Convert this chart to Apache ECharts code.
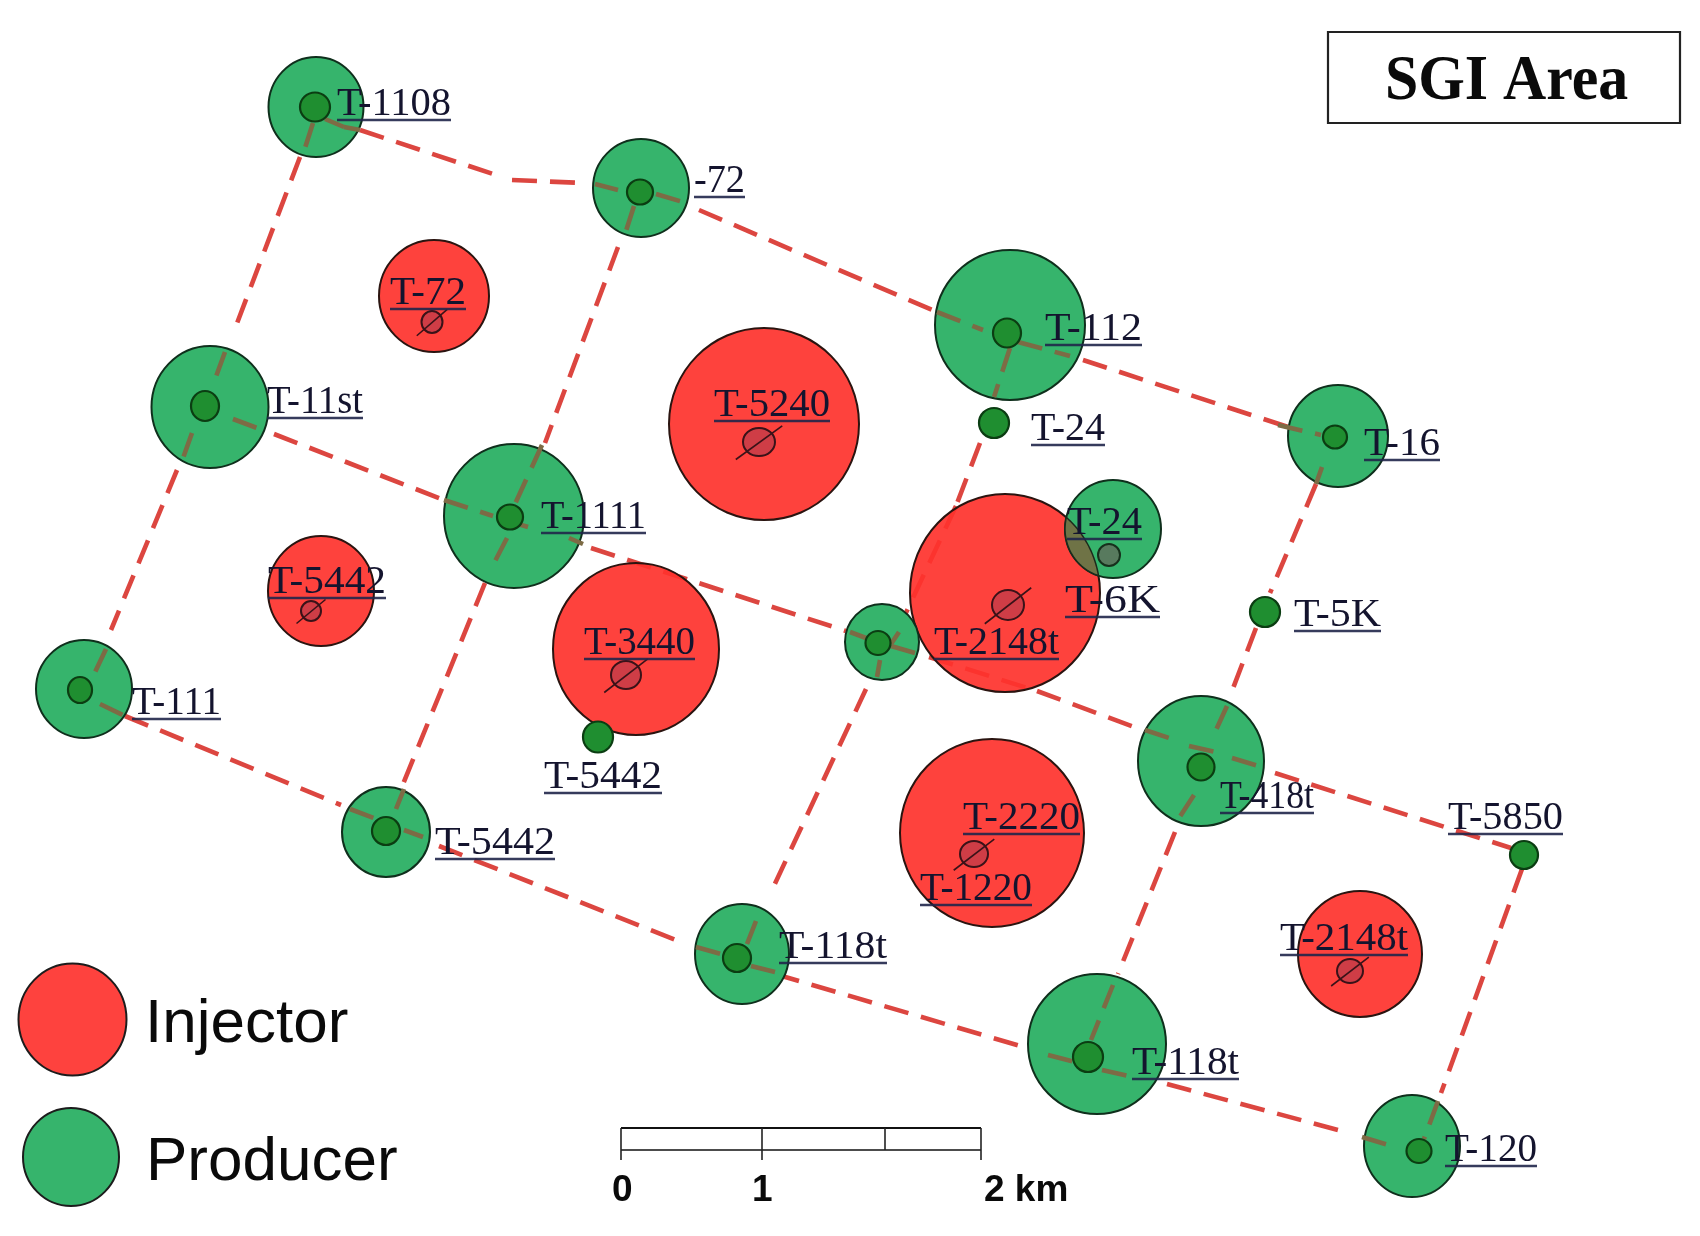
<!DOCTYPE html>
<html>
<head>
<meta charset="utf-8">
<title>SGI Area</title>
<script src="https://cdn.jsdelivr.net/npm/echarts@6/dist/echarts.min.js"></script>
<style>
  html, body { margin: 0; padding: 0; background: #fff; }
  #main { width: 1700px; height: 1236px; }
</style>
</head>
<body>
<div id="main"></div>
<script>
// map units below are the picture's own x / y (y runs downward)
// [x, y, rx, ry]
const injectors = [
    [434, 296, 55, 56],
    [764, 424, 95, 96],
    [321, 591, 53, 55],
    [636, 649, 83, 86],
    [1005, 593, 95, 99],
    [992, 833, 92, 94],
    [1360, 954, 62, 63]
];
const producers = [
    [316, 107, 47.5, 50],
    [641, 188, 48, 49],
    [1010, 325, 75, 75],
    [210, 407, 58.5, 61],
    [1338, 436, 50, 51],
    [514, 516, 70, 72],
    [1113, 529, 48, 49],
    [882, 642, 37, 38],
    [84, 689, 48, 49],
    [1201, 761, 63, 65],
    [386, 832, 44, 45],
    [742, 954, 47, 50],
    [1097, 1044, 69, 70],
    [1412, 1146, 48, 51]
];
// inner well marks
const producerWells = [
    [315, 107, 15, 14.5], [640, 192, 13, 12.5], [1007, 333, 14, 14.5], [205, 406, 14, 15],
    [1335, 437, 12, 11.5], [510, 517, 13, 12.5], [878, 643, 12.5, 12], [80, 690, 12, 13],
    [1201, 767, 13.5, 13.5], [386, 831, 14, 14], [737, 958, 14, 14], [1088, 1057, 15, 15],
    [1419, 1151, 12.5, 12], [994, 423, 15, 15], [1265, 612, 15, 15], [598, 737, 15, 15.5],
    [1524, 855, 14, 14]
];
const injectorWells = [
    [432, 322, 10.5, 11], [759, 442, 16, 14], [311, 611, 10, 10], [626, 675, 15, 14],
    [1008, 605, 16, 15], [974, 854, 14, 13], [1350, 971, 13, 12]
];
const overlapWell = [[1109, 555, 11, 11]];

// dashes outside the producers: [x1, y1, x2, y2]
const linksOutside = [
    [360, 130, 493, 174], [512, 180, 583, 183], [699, 210, 937, 312], [1083, 360, 1288, 427],
    [300, 157, 236, 326], [177, 470, 111, 630], [274, 434, 444, 500], [591, 548, 846, 631],
    [929, 657, 1037, 691], [1037, 691, 1137, 728], [1275, 773, 1511, 848],
    [125, 716, 341, 805], [439, 846, 686, 944], [775, 974, 1034, 1050], [1167, 1084, 1349, 1133],
    [618, 247, 545, 443], [485, 583, 401, 789], [980, 443, 956, 506], [956, 506, 904, 617],
    [866, 689, 772, 890], [1316, 484, 1270, 593], [1256, 628, 1232, 691],
    [1175, 832, 1118, 974], [1522, 869, 1441, 1093]
];
// the same links where they run across a producer
const linksInside = [
    [325, 119, 344, 127], [344, 127, 360, 130], [313, 123, 305, 148], [595, 184, 618, 190],
    [656, 194, 683, 202], [634, 206, 626, 231], [937, 312, 983, 330], [1018, 342, 1070, 356],
    [1010, 348, 994, 397], [1278, 425, 1321, 435], [1322, 467, 1316, 484], [225, 352, 214, 382],
    [192, 433, 182, 461], [233, 419, 265, 431], [106, 649, 89, 685], [444, 500, 493, 516],
    [518, 524, 528, 527], [569, 538, 583, 544], [542, 445, 515, 504], [507, 538, 493, 565],
    [850, 632, 866, 638], [891, 646, 915, 653], [899, 632, 891, 644], [880, 660, 877, 677],
    [1145, 730, 1175, 740], [1189, 746, 1216, 752], [1232, 758, 1262, 767], [1227, 706, 1216, 730],
    [1194, 795, 1179, 818], [100, 704, 125, 716], [350, 809, 379, 820], [404, 830, 423, 837],
    [404, 789, 396, 809], [696, 947, 721, 954], [751, 966, 775, 972], [756, 921, 747, 944],
    [1048, 1055, 1075, 1062], [1102, 1070, 1137, 1078], [1113, 985, 1091, 1040],
    [1362, 1137, 1392, 1146], [1438, 1101, 1424, 1139]
];

// [text, left, baseline, right]
const wellLabels = [
    ['T-1108', 337, 115, 451], ['-72', 694, 192, 745], ['T-72', 390, 304, 466],
    ['T-11st', 267, 413, 363], ['T-5240', 714, 416, 830], ['T-1111', 541, 528, 646],
    ['T-5442', 268, 593, 386], ['T-112', 1045, 340, 1142], ['T-24', 1031, 440, 1105],
    ['T-16', 1364, 455, 1440], ['T-24', 1067, 534, 1142], ['T-6K', 1065, 612, 1160],
    ['T-5K', 1294, 626, 1381], ['T-2148t', 934, 654, 1059], ['T-3440', 584, 654, 695],
    ['T-111', 132, 714, 221], ['T-5442', 544, 788, 662], ['T-418t', 1220, 808, 1314],
    ['T-2220', 963, 829, 1080], ['T-5850', 1448, 829, 1563], ['T-5442', 435, 854, 555],
    ['T-1220', 920, 900, 1032], ['T-2148t', 1280, 950, 1408], ['T-118t', 779, 958, 887],
    ['T-118t', 1132, 1074, 1239], ['T-120', 1445, 1161, 1537]
];

const legendSwatches = [
    [72.5, 1019.5, 54, 56, 'Injector', 145, 1045],
    [71, 1157, 48, 49, 'Producer', 146, 1183]
];
const scaleTicks = [[621, 1160], [762, 1160], [885, 1150], [981, 1160]];
const scaleLabels = [['0', 612, 1203], ['1', 752, 1203], ['2 km', 984, 1203]];
const titleBox = [1328, 32, 1680, 123];

const RED = '#fe423e';
const GREEN = '#36b46c';
const OVERLAP = '#6f7346';
const INK = '#14142e';

const myChart = echarts.init(document.getElementById('main'));

const measureCtx = document.createElement('canvas').getContext('2d');

function ellipseItem(color, stroke, lineWidth) {
    return (params, api) => {
        const c = api.coord([api.value(0), api.value(1)]);
        const s = api.size([api.value(2), api.value(3)]);
        return {
            type: 'ellipse',
            shape: { cx: c[0], cy: c[1], rx: s[0], ry: s[1] },
            style: { fill: color, stroke: stroke, lineWidth: lineWidth }
        };
    };
}

function wellSlashItem(params, api) {
    const c = api.coord([api.value(0), api.value(1)]);
    const s = api.size([api.value(2), api.value(3)]);
    return {
        type: 'group',
        children: [
            {
                type: 'ellipse',
                shape: { cx: c[0], cy: c[1], rx: s[0], ry: s[1] },
                style: { fill: '#cf3d46', stroke: '#3a1218', lineWidth: 2 }
            },
            {
                type: 'line',
                shape: {
                    x1: c[0] - s[0] * 1.45, y1: c[1] + s[1] * 1.25,
                    x2: c[0] + s[0] * 1.45, y2: c[1] - s[1] * 1.15
                },
                style: { stroke: '#3a1218', lineWidth: 1.6 }
            }
        ]
    };
}

function lineSeries(segments, color, z, name) {
    const points = [];
    segments.forEach(s => {
        points.push([s[0], s[1]], [s[2], s[3]], ['-', '-']);
    });
    return {
        name: name,
        type: 'line',
        z: z,
        data: points,
        symbol: 'none',
        silent: true,
        connectNulls: false,
        lineStyle: { color: color, width: 4.6, type: [25, 13], cap: 'butt' }
    };
}

// text fitted to the span it has in the picture, underline below
function underlinedLabel(params, api) {
    const row = wellLabels[params.dataIndex];
    const left = api.coord([row[1], row[2]]);
    const right = api.coord([row[3], row[2]]);
    const font = '41px "Liberation Serif"';
    measureCtx.font = font;
    const scale = (right[0] - left[0]) / measureCtx.measureText(row[0]).width;
    return {
        type: 'group',
        children: [
            {
                type: 'text',
                x: left[0],
                y: left[1] - 11,
                scaleX: scale,
                style: { text: row[0], font: font, fill: INK, align: 'left', verticalAlign: 'middle' }
            },
            {
                type: 'line',
                shape: { x1: left[0], y1: left[1] + 5, x2: right[0], y2: left[1] + 5 },
                style: { stroke: '#20264a', lineWidth: 2.4, opacity: 0.9 }
            }
        ]
    };
}

function textItem(text, x, baseline, font, lift, scaleX) {
    return {
        type: 'text',
        x: x,
        y: baseline - lift,
        scaleX: scaleX || 1,
        style: { text: text, font: font, fill: '#0a0a0a', align: 'left', verticalAlign: 'middle' }
    };
}

// lens where the T-24 producer lies on the large injector
function overlapItem(params, api) {
    const g = producers[6];
    const r = injectors[4];
    const inside = (e, x, y) => ((x - e[0]) / e[2]) ** 2 + ((y - e[1]) / e[3]) ** 2 <= 1;
    const pts = [];
    for (let i = 0; i < 360; i++) {
        const a = i * Math.PI / 180;
        const gx = g[0] + g[2] * Math.cos(a), gy = g[1] + g[3] * Math.sin(a);
        if (inside(r, gx, gy)) pts.push([gx, gy]);
        const rx = r[0] + r[2] * Math.cos(a), ry = r[1] + r[3] * Math.sin(a);
        if (inside(g, rx, ry)) pts.push([rx, ry]);
    }
    const mx = pts.reduce((t, p) => t + p[0], 0) / pts.length;
    const my = pts.reduce((t, p) => t + p[1], 0) / pts.length;
    pts.sort((a, b) => Math.atan2(a[1] - my, a[0] - mx) - Math.atan2(b[1] - my, b[0] - mx));
    return {
        type: 'polygon',
        shape: { points: pts.map(p => api.coord(p)) },
        style: { fill: OVERLAP, stroke: '#1c2a1c', lineWidth: 1.5 }
    };
}

function decorItem(params, api) {
    const children = [];
    // title box
    const a = api.coord([titleBox[0], titleBox[1]]);
    const b = api.coord([titleBox[2], titleBox[3]]);
    children.push({
        type: 'rect',
        shape: { x: a[0], y: a[1], width: b[0] - a[0], height: b[1] - a[1] },
        style: { fill: '#fff', stroke: '#222', lineWidth: 2.2 }
    });
    children.push(textItem('SGI Area', 1385, 98, 'bold 63px "Liberation Serif"', 15, 0.95));

    // scale bar
    const first = scaleTicks[0];
    const last = scaleTicks[scaleTicks.length - 1];
    [1128, 1150].forEach(y => {
        const p = api.coord([first[0], y]);
        const q = api.coord([last[0], y]);
        children.push({
            type: 'line',
            shape: { x1: p[0], y1: p[1], x2: q[0], y2: q[1] },
            style: { stroke: '#111', lineWidth: y === 1128 ? 2.2 : 1.4 }
        });
    });
    scaleTicks.forEach(t => {
        const p = api.coord([t[0], 1128]);
        const q = api.coord([t[0], t[1]]);
        children.push({
            type: 'line',
            shape: { x1: p[0], y1: p[1], x2: q[0], y2: q[1] },
            style: { stroke: '#222', lineWidth: 1.6 }
        });
    });
    scaleLabels.forEach(l => {
        children.push(textItem(l[0], l[1], l[2], 'bold 37px "Liberation Sans"', 12));
    });

    // legend text
    legendSwatches.forEach(l => {
        children.push(textItem(l[4], l[5], l[6], '62px "Liberation Sans"', 20));
    });
    return { type: 'group', children: children };
}

const option = {
    animation: false,
    backgroundColor: '#fff',
    grid: { left: 0, right: 0, top: 0, bottom: 0 },
    xAxis: { type: 'value', min: 0, max: 1700, show: false },
    yAxis: { type: 'value', min: 0, max: 1236, inverse: true, show: false },
    series: [
        lineSeries(linksOutside, '#dc4640', 1, 'links'),
        {
            name: 'Injector',
            type: 'custom',
            z: 2,
            silent: true,
            data: injectors,
            renderItem: ellipseItem('rgba(254,50,45,0.92)', '#2a1410', 2)
        },
        {
            name: 'Producer',
            type: 'custom',
            z: 3,
            silent: true,
            data: producers,
            renderItem: ellipseItem(GREEN, '#0f2f1c', 2)
        },
        {
            name: 'legend swatches',
            type: 'custom',
            z: 3,
            silent: true,
            data: legendSwatches.map(l => l.slice(0, 4)),
            renderItem: (params, api) => ellipseItem(params.dataIndex === 0 ? RED : GREEN, '#1c1c1c', 2)(params, api)
        },
        {
            name: 'overlap',
            type: 'custom',
            z: 4,
            silent: true,
            data: [[0]],
            renderItem: overlapItem
        },
        lineSeries(linksInside, '#7d6b45', 5, 'links inside'),
        {
            name: 'producer wells',
            type: 'custom',
            z: 6,
            silent: true,
            data: producerWells,
            renderItem: ellipseItem('#1f8e30', '#0b3d12', 2.2)
        },
        {
            name: 'injector wells',
            type: 'custom',
            z: 6,
            silent: true,
            data: injectorWells,
            renderItem: wellSlashItem
        },
        {
            name: 'overlap well',
            type: 'custom',
            z: 6,
            silent: true,
            data: overlapWell,
            renderItem: ellipseItem('#587a5e', '#17301c', 2)
        },
        {
            name: 'well labels',
            type: 'custom',
            z: 7,
            silent: true,
            data: wellLabels.map((l, i) => [i]),
            renderItem: underlinedLabel
        },
        {
            name: 'decor',
            type: 'custom',
            z: 8,
            silent: true,
            data: [[0]],
            renderItem: decorItem
        }
    ]
};

myChart.setOption(option);
</script>
</body>
</html>
